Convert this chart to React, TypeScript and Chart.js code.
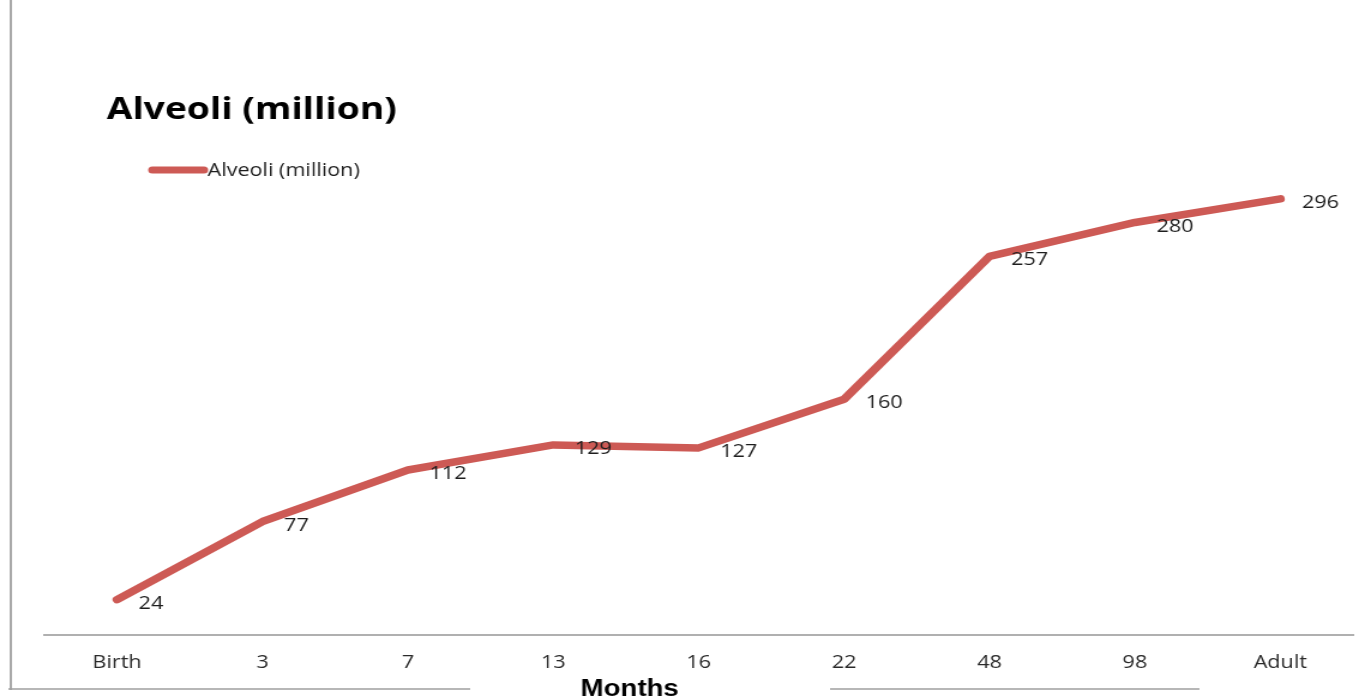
import React, { useEffect, useRef } from "react";
import { Chart, registerables } from "chart.js";

Chart.register(...registerables);

const categories = ["Birth", "3", "7", "13", "16", "22", "48", "98", "Adult"];
const alveoliValues = [24, 77, 112, 129, 127, 160, 257, 280, 296];
const seriesLabel = "Alveoli (million)";
const chartTitle = "Alveoli (million)";
const xAxisTitle = "Months";
const yMin = 0;
const yMax = 300;

const LINE_COLOR = "#CD5A55";
const W = 1138;
const H = 698;

const decorPlugin = {
  id: "decor",
  beforeDraw(chart: any) {
    const ctx = chart.ctx;
    ctx.save();
    ctx.strokeStyle = "#a8a8a8";
    ctx.lineWidth = 2;
    ctx.beginPath();
    ctx.moveTo(9, 0);
    ctx.lineTo(9, 690);
    ctx.stroke();
    ctx.lineWidth = 1.5;
    ctx.strokeStyle = "#a0a0a0";
    ctx.beginPath();
    ctx.moveTo(7, 689);
    ctx.lineTo(392, 689);
    ctx.moveTo(692, 689);
    ctx.lineTo(1000, 689);
    ctx.stroke();
    ctx.restore();
  },
  afterDatasetsDraw(chart: any) {
    const ctx = chart.ctx;
    const meta = chart.getDatasetMeta(0);
    ctx.save();
    ctx.font = "18px 'Open Sans'";
    ctx.fillStyle = "#1e1e1e";
    ctx.textAlign = "left";
    ctx.textBaseline = "middle";
    meta.data.forEach((pt: any, i: number) => {
      ctx.fillText(String(alveoliValues[i]), pt.x + 18, pt.y + 4);
    });
    ctx.restore();
  },
  afterDraw(chart: any) {
    const ctx = chart.ctx;
    ctx.save();
    // title
    ctx.font = "bold 31px 'Open Sans'";
    ctx.fillStyle = "#000";
    ctx.textAlign = "left";
    ctx.textBaseline = "middle";
    ctx.fillText(chartTitle, 89, 110);
    // legend
    ctx.strokeStyle = LINE_COLOR;
    ctx.lineWidth = 7;
    ctx.lineCap = "round";
    ctx.beginPath();
    ctx.moveTo(127, 170);
    ctx.lineTo(170, 170);
    ctx.stroke();
    ctx.font = "18px 'Open Sans'";
    ctx.fillStyle = "#1e1e1e";
    ctx.fillText(seriesLabel, 173, 171);
    // x-axis title
    ctx.font = "bold 23px 'Liberation Sans'";
    ctx.fillStyle = "#000";
    ctx.textAlign = "center";
    ctx.fillText(xAxisTitle, 525, 690);
    ctx.restore();
  },
};

export default function App() {
  const ref = useRef<HTMLCanvasElement | null>(null);

  useEffect(() => {
    document.body.style.margin = "0";
    const canvas = ref.current;
    if (!canvas) return;
    const chart = new Chart(canvas, {
      type: "line",
      data: {
        labels: categories,
        datasets: [
          {
            label: seriesLabel,
            data: alveoliValues,
            borderColor: LINE_COLOR,
            backgroundColor: LINE_COLOR,
            borderWidth: 7.5,
            borderCapStyle: "round",
            borderJoinStyle: "round",
            pointRadius: 0,
            tension: 0,
            clip: false as any,
          },
        ],
      },
      options: {
        responsive: false,
        animation: false,
        devicePixelRatio: 1,
        layout: { padding: { top: 193, left: 37, right: 10, bottom: 0 } },
        plugins: {
          legend: { display: false },
          title: { display: false },
          tooltip: { enabled: false },
        },
        scales: {
          x: {
            type: "category",
            offset: true,
            grid: { display: false, drawTicks: false },
            border: { display: true, color: "#b0b0b0", width: 2 },
            ticks: {
              font: { family: "'Open Sans'", size: 18 },
              color: "#2a2a2a",
              padding: 17,
              maxRotation: 0,
              autoSkip: false,
            },
            afterFit: (scale: any) => {
              scale.height = 63;
            },
          },
          y: {
            display: false,
            min: yMin,
            max: yMax,
          },
        },
      },
      plugins: [decorPlugin],
    });
    return () => chart.destroy();
  }, []);

  return (
    <canvas
      ref={ref}
      width={W}
      height={H}
      style={{
        position: "absolute",
        left: 0,
        top: 0,
        width: "1365px",
        height: "698px",
        display: "block",
      }}
    />
  );
}
